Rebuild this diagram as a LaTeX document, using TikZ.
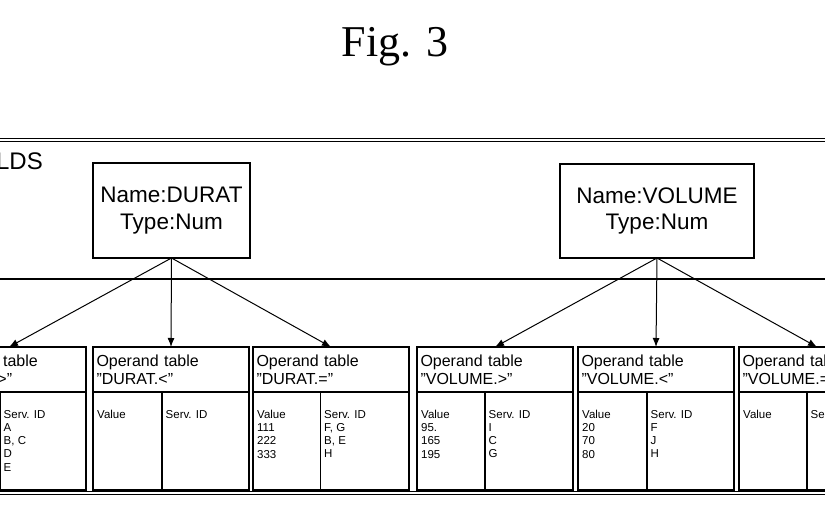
\documentclass[tikz,border=0pt]{standalone}
\usepackage{fontspec}
\setmainfont{Liberation Sans}
\newfontfamily\figfont{Liberation Serif}
\usetikzlibrary{arrows.meta}

\tikzset{
  fieldbox/.style={draw, line width=1.1pt, outer sep=0pt, inner sep=0pt, align=center, font=\fontsize{22.5pt}{26.5pt}\selectfont},
  headbox/.style={draw, line width=1.2pt, outer sep=0pt, anchor=north west, minimum height=45pt, text width=149pt, inner xsep=3.5pt, inner ysep=0pt, align=left, font=\fontsize{16pt}{18pt}\selectfont},
  colbox/.style={draw, line width=1.2pt, outer sep=0pt, inner sep=0pt, anchor=north west, minimum height=98pt},
  celltext/.style={anchor=north west, inner sep=0pt, align=left, font=\fontsize{11.5pt}{13.3pt}\selectfont},
  link/.style={line width=1pt, -{Latex[length=9pt,width=7pt]}},
  frameline/.style={line width=1.1pt}
}

\begin{document}
\begin{tikzpicture}[x=1pt,y=-1pt]
               \useasboundingbox (0,0) rectangle (825,510);
               \clip (0,0) rectangle (825,510);
               % title
               \node [font=\figfont\fontsize{44pt}{44pt}\selectfont, anchor=base] (title) at (395,57) {Fig. 3};
               % frame lines
               \draw [frameline] (0,138.5) -- (825,138.5);
               \draw [frameline] (0,141.5) -- (825,141.5);
               \draw [frameline] (0,279) -- (825,279);
               \draw [frameline] (0,491.5) -- (825,491.5);
               \draw [frameline] (0,494.5) -- (825,494.5);
               \node [font=\fontsize{24pt}{24pt}\selectfont, anchor=base east, inner sep=0pt] (fields) at (43,170) {LDS};
               % field boxes
               \node [fieldbox, minimum width=157pt, minimum height=95pt] (durat) at (171.5,210.5) {Name:DURAT\\Type:Num};
               \node [fieldbox, minimum width=194pt, minimum height=94pt] (volume) at (657,211) {Name:VOLUME\\Type:Num};
               % DURAT.> table
               \node [headbox, text width=147pt] (dgh) at (-68,347) {Operand table\\"DURAT.>"};
               \node [colbox, minimum width=68pt] (dgv) at (dgh.south west) {};
               \node [colbox, minimum width=86pt] (dgs) at (dgv.north east) {};
               \node [celltext] (dgvt) at ([shift={(4,17.8)}]dgv.north west) {Value};
               \node [celltext] (dgst) at ([shift={(3.5,17.8)}]dgs.north west) {Serv. ID\\A\\B, C\\D\\E};
               % DURAT.< table
               \node [headbox] (dlh) at (93,347) {Operand table\\"DURAT.<"};
               \node [colbox, minimum width=69pt] (dlv) at (dlh.south west) {};
               \node [colbox, minimum width=87pt] (dls) at (dlv.north east) {};
               \node [celltext] (dlvt) at ([shift={(4,17.8)}]dlv.north west) {Value};
               \node [celltext] (dlst) at ([shift={(3.5,17.8)}]dls.north west) {Serv. ID};
               % DURAT.= table
               \node [headbox] (deh) at (253,347) {Operand table\\"DURAT.="};
               \node [colbox, minimum width=67.5pt] (dev) at (deh.south west) {};
               \node [colbox, minimum width=88.5pt] (des) at (dev.north east) {};
               \node [celltext] (devt) at ([shift={(4,17.8)}]dev.north west) {Value\\111\\222\\333};
               \node [celltext] (dest) at ([shift={(3.5,17.8)}]des.north west) {Serv. ID\\F, G\\B, E\\H};
               % VOLUME.> table
               \node [headbox] (vgh) at (417,347) {Operand table\\"VOLUME.>"};
               \node [colbox, minimum width=68pt] (vgv) at (vgh.south west) {};
               \node [colbox, minimum width=88pt] (vgs) at (vgv.north east) {};
               \node [celltext] (vgvt) at ([shift={(4,17.8)}]vgv.north west) {Value\\95.\\165\\195};
               \node [celltext] (vgst) at ([shift={(3.5,17.8)}]vgs.north west) {Serv. ID\\I\\C\\G};
               % VOLUME.< table
               \node [headbox] (vlh) at (578,347) {Operand table\\"VOLUME.<"};
               \node [colbox, minimum width=69pt] (vlv) at (vlh.south west) {};
               \node [colbox, minimum width=87pt] (vls) at (vlv.north east) {};
               \node [celltext] (vlvt) at ([shift={(4,17.8)}]vlv.north west) {Value\\20\\70\\80};
               \node [celltext] (vlst) at ([shift={(3.5,17.8)}]vls.north west) {Serv. ID\\F\\J\\H};
               % VOLUME.= table
               \node [headbox] (veh) at (739,347) {Operand table\\"VOLUME.="};
               \node [colbox, minimum width=68pt] (vev) at (veh.south west) {};
               \node [colbox, minimum width=88pt] (ves) at (vev.north east) {};
               \node [celltext] (vevt) at ([shift={(4,17.8)}]vev.north west) {Value};
               \node [celltext] (vest) at ([shift={(3.5,17.8)}]ves.north west) {Serv. ID};
               % arrows down to the operand tables
               \draw [link] (durat.south) -- (dgh.north);
               \draw [link] (durat.south) -- (dlh.north);
               \draw [link] (durat.south) -- (deh.north);
               \draw [link] (volume.south) -- (vgh.north);
               \draw [link] (volume.south) -- (vlh.north);
               \draw [link] (volume.south) -- (veh.north);
\end{tikzpicture}
\end{document}
